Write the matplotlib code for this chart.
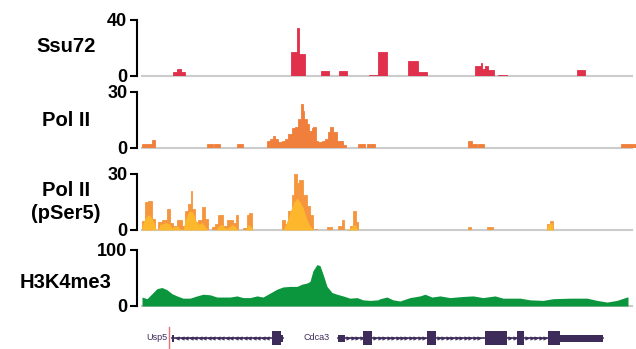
import numpy as np
import matplotlib.pyplot as plt
from matplotlib.patches import Rectangle

plt.rcParams['font.family'] = ['Liberation Sans', 'DejaVu Sans']

# positions along the locus (arbitrary units, window 0-494)
ssu72_start = [31, 35, 39, 149, 155, 157, 179, 197, 227, 236, 266, 276, 333, 339, 340, 343, 346, 356, 435]
ssu72_end = [35, 39, 43, 155, 157, 163, 187, 205, 236, 245, 276, 285, 339, 340, 343, 346, 352, 365, 443]
ssu72_val = [3, 5, 3, 17, 34, 15.5, 3.5, 3.5, 1, 17, 11, 3, 7, 9.5, 5, 7, 4, 1, 4]

polii_start = [0, 10, 65, 72, 95, 125, 128, 131, 133, 136, 140, 143, 146, 150, 153, 156, 159, 161,
               162, 165, 167, 170, 171, 174, 176, 180, 183, 186, 188, 191, 195, 197, 201, 216,
               225, 326, 330, 336, 479]
polii_end = [10, 13, 71, 78, 101, 128, 131, 133, 136, 140, 143, 146, 150, 153, 156, 159, 161, 162,
             165, 167, 170, 171, 174, 176, 180, 183, 186, 188, 191, 195, 197, 201, 204, 223,
             233, 330, 335, 342, 494]
polii_val = [2.3, 4.5, 2.3, 2.3, 2.3, 4, 5, 6.5, 4.7, 3, 3.5, 5, 7.7, 10.5, 11, 15.5, 23.7, 20,
             15.5, 13, 9, 10.5, 11, 4, 3.2, 4, 5, 8.5, 11, 8.5, 4, 3.5, 1.5, 2.3,
             2.3, 4, 2.3, 2.3, 2.3]

pser5_start = [0, 3, 6, 10, 16, 20, 25, 28, 31, 35, 40, 43, 46, 49, 50, 53, 56, 60, 63, 70, 73, 76,
               81, 85, 88, 91, 94, 101, 105, 107, 140, 143, 146, 150, 152, 155, 157, 161, 165, 168,
               173, 185, 196, 200, 208, 211, 214, 326, 345, 405, 408]
pser5_end = [3, 6, 10, 13, 20, 25, 28, 31, 35, 40, 43, 46, 49, 50, 53, 56, 60, 63, 66, 73, 76, 81,
             85, 88, 91, 94, 96, 105, 107, 110, 143, 146, 150, 152, 155, 157, 161, 165, 168, 171,
             175, 190, 200, 202, 211, 214, 216, 329, 351, 408, 411]
pser5_val = [5, 15, 15.5, 6, 4.5, 5.5, 11, 3.5, 2, 5.5, 2, 10, 14, 21, 11, 4.5, 5.5, 12.5, 6, 1.5, 3, 8,
             2, 5.5, 5.5, 3.5, 8, 1, 8, 9, 5.5, 3, 10, 18.5, 30, 25, 27, 18.5, 13, 8,
             0.7, 1.5, 2, 5.5, 2, 10, 4.5, 1.7, 1.5, 3, 5]

# smoothed pSer5 signal
pser5_smooth_pos = [0, 2, 4, 6, 8, 10, 12, 14, 16, 18, 24, 28, 30, 32, 36, 39, 41, 43, 45, 47, 50, 52,
                    54, 57, 60, 63, 66, 74, 76, 80, 83, 86, 90, 93, 96, 104, 106, 109, 111, 141, 143,
                    146, 149, 152, 155, 158, 161, 164, 167, 170, 171, 205, 208, 213, 216, 404, 406,
                    410, 411]
pser5_smooth_val = [2, 5, 7, 8, 8, 6, 4, 0, 0, 3, 4, 3, 1, 2, 2, 0, 0, 5, 8, 10, 10, 8,
                    5, 3, 4, 2, 0, 0, 2, 3, 1, 1, 3, 2, 0, 0, 3, 2, 0, 0, 2,
                    6, 11, 15, 17, 15, 12, 7, 3, 1, 0, 0, 1, 3, 0, 0, 3,
                    4, 0]

h3k4_pos = [0, 5, 10, 15, 20, 25, 30, 35, 41, 48, 55, 61, 68, 75, 88, 95, 101, 108, 115, 121, 128,
            135, 141, 148, 155, 160, 165, 168, 171, 175, 178, 181, 185, 190, 195, 201, 208, 215,
            221, 228, 236, 238, 245, 251, 258, 268, 278, 283, 290, 298, 308, 321, 331, 341, 353,
            361, 378, 388, 401, 411, 428, 445, 455, 465, 475, 485, 486]
h3k4_val = [16, 13, 22, 31, 33, 29, 22, 18, 14, 14, 18, 21, 20, 16, 16, 18, 15, 15, 18, 16, 23,
            30, 34, 35, 35, 39, 41, 44, 63, 74, 72, 57, 35, 24, 21, 18, 14, 15,
            11, 10, 11, 13, 16, 11, 9, 15, 18, 21, 16, 18, 15, 17, 18, 15, 18,
            14, 14, 11, 10, 13, 14, 14, 10, 7, 10, 16, 16]

# gene models: (start, end) of coding exons and UTR pieces
usp5_span = (30, 141)
usp5_exons = [(130, 139)]
usp5_utr = [(139, 141), (30, 32)]
cdca3_span = (196, 461)
cdca3_exons = [(221, 230), (285, 294), (343, 365), (375, 382), (406, 418)]
cdca3_utr = [(196, 203), (418, 461)]

W, H = 636, 349
fig = plt.figure(figsize=(W / 100, H / 100), dpi=100)


def px_axes(left, top, right, bottom):
    return fig.add_axes([left / W, 1 - bottom / H, (right - left) / W, (bottom - top) / H])


XMIN, XMAX = -5, 494
tracks = [
    ('Ssu72', 20, 76, 40),
    ('Pol II', 92, 148, 30),
    ('Pol II\n(pSer5)', 174, 230, 30),
    ('H3K4me3', 250, 306, 100),
]
label_y = [47, 120, 202, 283]

axes = []
for (name, top, bottom, ymax), ly in zip(tracks, label_y):
    ax = px_axes(137, top, W, bottom)
    ax.set_xlim(XMIN, XMAX)
    ax.set_ylim(0, ymax)
    for s in ['top', 'right', 'bottom']:
        ax.spines[s].set_visible(False)
    ax.spines['left'].set_linewidth(1.5)
    ax.set_xticks([])
    ax.set_yticks([0, ymax])
    ax.tick_params(axis='y', length=5, width=1.5, pad=2, labelsize=13)
    for t in ax.get_yticklabels():
        t.set_fontweight('bold')
    ax.plot([0, 490], [0, 0], color='#cccccc', lw=1.5, zorder=0, clip_on=False)
    ax.patch.set_alpha(0)
    fig.text(66 / W, 1 - ly / H, name, ha='center', va='center', fontsize=14.5,
             fontweight='bold', linespacing=1.3)
    axes.append(ax)

ax_ssu, ax_pol, ax_ps5, ax_h3 = axes


def draw_bars(ax, start, end, val, color):
    ax.bar(start, val, width=np.subtract(end, start), align='edge',
           color=color, edgecolor=color, linewidth=0.6)


draw_bars(ax_ssu, ssu72_start, ssu72_end, ssu72_val, '#e0304b')
draw_bars(ax_pol, polii_start, polii_end, polii_val, '#f07f3c')
draw_bars(ax_ps5, pser5_start, pser5_end, pser5_val, '#f5963f')
ax_ps5.fill_between(pser5_smooth_pos, pser5_smooth_val, color='#fdb72c', linewidth=0)
ax_h3.fill_between(h3k4_pos, h3k4_val, color='#0b963e', linewidth=0)

# gene annotation track
gx = px_axes(137, 326, W, 350)
gx.set_xlim(XMIN, XMAX)
gx.set_ylim(-12, 12)
gx.axis('off')
gcol = '#3d2b5a'


def draw_gene(span, exons, utrs, marker):
    gx.plot(span, [0, 0], color=gcol, lw=1.2)
    for a, b in exons:
        gx.add_patch(Rectangle((a, -7), b - a, 14, color=gcol, linewidth=0))
    for a, b in utrs:
        gx.add_patch(Rectangle((a, -3.5), b - a, 7, color=gcol, linewidth=0))
    # strand chevrons in the introns
    blocks = sorted(exons + utrs)
    for (a0, b0), (a1, b1) in zip(blocks[:-1], blocks[1:]):
        xs = np.arange(b0 + 3, a1 - 1, 4.5)
        gx.plot(xs, np.zeros_like(xs), ls='none', marker=marker, ms=2.5, color=gcol,
                markeredgewidth=0.4)


draw_gene(usp5_span, usp5_exons, usp5_utr, '<')
draw_gene(cdca3_span, cdca3_exons, cdca3_utr, '>')
gx.plot([27, 27], [-11, 11], color='#e8707a', lw=1)
gx.text(15, 0, 'Usp5', ha='center', va='center', fontsize=6.5, color=gcol)
gx.text(175, 0, 'Cdca3', ha='center', va='center', fontsize=6.5, color=gcol)

fig.savefig('out.png', dpi=100)
